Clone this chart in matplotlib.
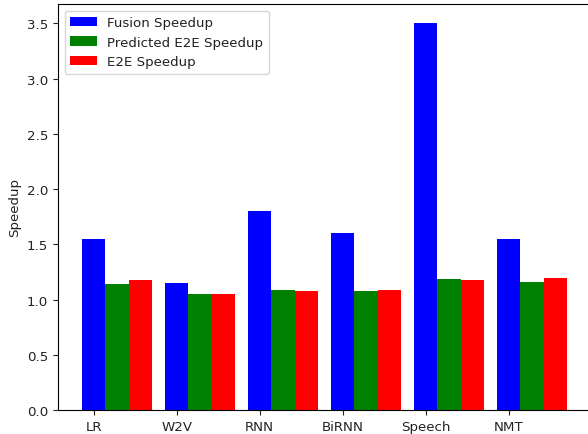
import numpy as np
import matplotlib
matplotlib.use("Agg")
import matplotlib.pyplot as plt

# speedup per model
models = ['LR', 'W2V', 'RNN', 'BiRNN', 'Speech', 'NMT']
fusion_speedup = [1.55, 1.15, 1.80, 1.60, 3.50, 1.55]
predicted_e2e = [1.14, 1.05, 1.085, 1.075, 1.19, 1.16]
e2e_speedup = [1.18, 1.05, 1.075, 1.085, 1.18, 1.195]

plt.rcParams['font.size'] = 9.6
plt.rcParams['text.color'] = '#222222'
plt.rcParams['xtick.color'] = '#222222'
plt.rcParams['ytick.color'] = '#222222'
plt.rcParams['axes.labelcolor'] = '#222222'

x = np.arange(len(models))
width = 0.28

fig = plt.figure(figsize=(5.88, 4.35), dpi=100)
ax = fig.add_axes([0.0986, 0.0552, 0.9065, 0.9333])

ax.bar(x, fusion_speedup, width, color='blue', label='Fusion Speedup')
ax.bar(x + width, predicted_e2e, width, color='green', label='Predicted E2E Speedup')
ax.bar(x + 2 * width, e2e_speedup, width, color='red', label='E2E Speedup')

ax.set_xticks(x)
ax.set_xticklabels(models)
ax.set_ylabel('Speedup')
ax.legend(loc='upper left')

plt.savefig('out.png', dpi=100)
plt.close()
